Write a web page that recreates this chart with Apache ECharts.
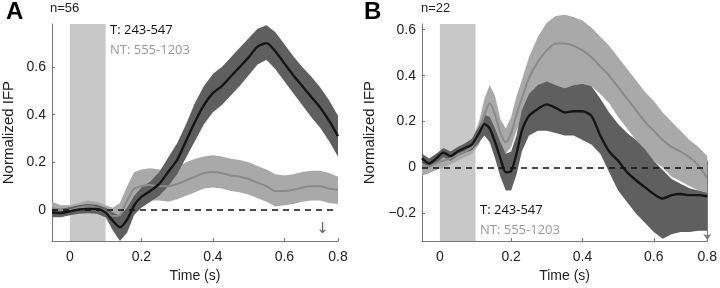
<!DOCTYPE html>
<html>
<head>
<meta charset="utf-8">
<script src="https://cdn.jsdelivr.net/npm/echarts@6/dist/echarts.min.js"></script>
<style>
  html, body { margin: 0; padding: 0; background: #fff; }
  #chart { width: 720px; height: 288px; }
</style>
</head>
<body>
<div id="chart"></div>
<script>
// ---- panel A (n=56) ----
var timeA = [-0.05, -0.025, 0, 0.025, 0.05, 0.075, 0.1, 0.12, 0.14, 0.16, 0.18, 0.2, 0.225, 0.25, 0.275, 0.3,
  0.325, 0.35, 0.375, 0.4, 0.425, 0.45, 0.475, 0.5, 0.525, 0.55, 0.575, 0.6, 0.625, 0.65, 0.675, 0.7, 0.725, 0.75];
var meanA_T = [-0.01, -0.012, -0.005, 0.003, 0.005, 0.005, -0.01, -0.045, -0.072, -0.04, 0.02, 0.055, 0.08, 0.11, 0.16, 0.21,
  0.29, 0.37, 0.44, 0.49, 0.52, 0.56, 0.6, 0.64, 0.685, 0.70, 0.665, 0.615, 0.565, 0.52, 0.475, 0.43, 0.375, 0.31];
var loA_T = [-0.03, -0.03, -0.022, -0.015, -0.013, -0.015, -0.03, -0.085, -0.13, -0.095, -0.02, 0.01, 0.035, 0.06, 0.1, 0.15,
  0.22, 0.29, 0.36, 0.41, 0.44, 0.48, 0.52, 0.565, 0.61, 0.63, 0.59, 0.54, 0.49, 0.44, 0.39, 0.345, 0.29, 0.225];
var hiA_T = [0.01, 0.006, 0.012, 0.02, 0.025, 0.022, 0.01, -0.01, -0.025, 0.01, 0.06, 0.095, 0.12, 0.16, 0.22, 0.28,
  0.36, 0.45, 0.52, 0.57, 0.6, 0.64, 0.68, 0.72, 0.76, 0.775, 0.745, 0.695, 0.645, 0.6, 0.56, 0.515, 0.46, 0.395];
var meanA_NT = [0.01, 0.0, 0.0, 0.01, 0.015, 0.01, -0.005, -0.025, -0.02, 0.04, 0.09, 0.1, 0.105, 0.1, 0.1, 0.11,
  0.125, 0.14, 0.155, 0.16, 0.155, 0.145, 0.14, 0.13, 0.115, 0.1, 0.08, 0.08, 0.085, 0.095, 0.1, 0.1, 0.09, 0.085];
var loA_NT = [-0.01, -0.02, -0.02, -0.01, -0.005, -0.01, -0.03, -0.06, -0.06, -0.01, 0.02, 0.03, 0.04, 0.04, 0.035, 0.045,
  0.06, 0.075, 0.09, 0.095, 0.09, 0.08, 0.075, 0.065, 0.05, 0.035, 0.015, 0.02, 0.025, 0.035, 0.04, 0.04, 0.03, 0.025];
var hiA_NT = [0.035, 0.02, 0.02, 0.03, 0.04, 0.035, 0.02, 0.01, 0.03, 0.1, 0.16, 0.17, 0.175, 0.17, 0.165, 0.18,
  0.2, 0.215, 0.225, 0.23, 0.225, 0.215, 0.21, 0.2, 0.185, 0.17, 0.15, 0.145, 0.15, 0.16, 0.165, 0.165, 0.155, 0.14];

// ---- panel B (n=22) ----
var timeB = [-0.05, -0.03, -0.01, 0.01, 0.03, 0.05, 0.07, 0.09, 0.11, 0.125, 0.14, 0.155, 0.17, 0.185, 0.2, 0.215, 0.23,
  0.25, 0.275, 0.3, 0.325, 0.35, 0.375, 0.4, 0.425, 0.45, 0.475, 0.5, 0.525, 0.55, 0.575, 0.6, 0.625, 0.65, 0.675, 0.7, 0.725, 0.75];
var meanB_T = [0.04, 0.018, 0.04, 0.065, 0.05, 0.07, 0.085, 0.1, 0.15, 0.19, 0.17, 0.11, 0.04, -0.02, -0.015, 0.06, 0.16,
  0.225, 0.255, 0.275, 0.26, 0.24, 0.245, 0.245, 0.225, 0.14, 0.07, 0.03, -0.02, -0.055, -0.085, -0.115, -0.135, -0.12, -0.115, -0.12, -0.12, -0.125];
var loB_T = [0.02, 0.0, 0.02, 0.045, 0.03, 0.05, 0.065, 0.075, 0.11, 0.14, 0.11, 0.04, -0.04, -0.1, -0.1, -0.03, 0.07,
  0.14, 0.16, 0.16, 0.15, 0.14, 0.14, 0.12, 0.1, 0.06, -0.02, -0.1, -0.15, -0.2, -0.24, -0.28, -0.31, -0.29, -0.28, -0.28, -0.275, -0.275];
var hiB_T = [0.06, 0.04, 0.06, 0.085, 0.07, 0.09, 0.105, 0.125, 0.18, 0.23, 0.22, 0.17, 0.11, 0.06, 0.07, 0.14, 0.25,
  0.32, 0.36, 0.375, 0.36, 0.345, 0.36, 0.365, 0.355, 0.3, 0.24, 0.19, 0.15, 0.12, 0.08, 0.03, -0.01, -0.05, -0.07, -0.09, -0.1, -0.11];
var meanB_NT = [0.01, 0.005, 0.02, 0.03, 0.04, 0.055, 0.07, 0.09, 0.15, 0.23, 0.28, 0.23, 0.15, 0.11, 0.15, 0.23, 0.3,
  0.39, 0.46, 0.51, 0.54, 0.54, 0.53, 0.51, 0.48, 0.44, 0.4, 0.35, 0.3, 0.25, 0.2, 0.16, 0.12, 0.09, 0.07, 0.045, 0.01, -0.046];
var loB_NT = [-0.035, -0.025, -0.01, 0.0, 0.015, 0.03, 0.045, 0.06, 0.1, 0.16, 0.2, 0.16, 0.09, 0.06, 0.09, 0.16, 0.21,
  0.28, 0.33, 0.37, 0.36, 0.345, 0.36, 0.365, 0.355, 0.32, 0.28, 0.22, 0.17, 0.12, 0.07, 0.03, 0.0, -0.04, -0.06, -0.08, -0.1, -0.11];
var hiB_NT = [0.05, 0.035, 0.05, 0.06, 0.065, 0.08, 0.095, 0.12, 0.2, 0.3, 0.36, 0.31, 0.21, 0.17, 0.22, 0.31, 0.38,
  0.48, 0.57, 0.63, 0.66, 0.665, 0.655, 0.64, 0.61, 0.57, 0.53, 0.48, 0.43, 0.38, 0.33, 0.29, 0.24, 0.2, 0.16, 0.12, 0.09, 0.05];

var xTicks = [0, 0.2, 0.4, 0.6, 0.75];
var yTicksA = [0, 0.2, 0.4, 0.6];
var yTicksB = [-0.2, 0, 0.2, 0.4, 0.6];
var stimWindow = [0, 0.1];

var FONT = 'Liberation Sans, Arial, sans-serif';
var LEG_FONT = 'Open Sans, sans-serif';

function zip(t, a, b) {
	var out = [];
	for (var i = 0; i < t.length; i++) out.push(b ? [t[i], a[i], b[i]] : [t[i], a[i]]);
	return out;
}

// polygon between lo and hi, drawn through the axes' own scales
function bandSeries(idx, t, lo, hi, color, z) {
	return {
		type: 'custom',
		xAxisIndex: idx, yAxisIndex: idx,
		z: z,
		silent: true,
		clip: false,
		data: zip(t, lo, hi),
		encode: { x: 0, y: [1, 2] },
		renderItem: function (params, api) {
			if (params.dataIndex !== 0) return;
			var pts = [];
			for (var i = 0; i < t.length; i++) pts.push(api.coord([t[i], hi[i]]));
			for (var j = t.length - 1; j >= 0; j--) pts.push(api.coord([t[j], lo[j]]));
			return { type: 'polygon', shape: { points: pts }, style: { fill: color } };
		}
	};
}

function lineSeries(idx, t, m, color, w, z) {
	return {
		type: 'line', xAxisIndex: idx, yAxisIndex: idx, z: z,
		data: zip(t, m), showSymbol: false, smooth: 0.25, silent: true,
		lineStyle: { color: color, width: w }
	};
}

function xAxisCfg(idx) {
	return {
		type: 'value', gridIndex: idx, min: -0.05, max: 0.75,
		name: 'Time (s)', nameLocation: 'middle', nameGap: 24,
		nameTextStyle: { fontFamily: FONT, fontSize: 14, color: '#222' },
		axisLine: { onZero: false, lineStyle: { color: '#777', width: 1 } },
		axisTick: { inside: true, length: 3, customValues: xTicks, lineStyle: { color: '#777' } },
		splitLine: { show: false },
		axisLabel: {
			customValues: xTicks, margin: 9, fontFamily: FONT, fontSize: 14, color: '#222',
			formatter: function (v) { return v === 0.75 ? '0.8' : String(+v.toFixed(1)); }
		}
	};
}

function yAxisCfg(idx, min, max, ticks, gap) {
	return {
		type: 'value', gridIndex: idx, min: min, max: max,
		name: 'Normalized IFP', nameLocation: 'middle', nameGap: gap,
		nameTextStyle: { fontFamily: FONT, fontSize: 15, color: '#222' },
		axisLine: { show: true, onZero: false, lineStyle: { color: '#777', width: 1 } },
		axisTick: { show: true, inside: true, length: 3, customValues: ticks, lineStyle: { color: '#777' } },
		splitLine: { show: false },
		axisLabel: {
			customValues: ticks, margin: 6, fontFamily: FONT, fontSize: 14, color: '#222',
			formatter: function (v) {
				var s = String(+v.toFixed(1));
				return v < 0 ? '\u2212' + s.slice(1) : s;
			}
		}
	};
}

function stimSeries(idx) {
	return {
		type: 'line', xAxisIndex: idx, yAxisIndex: idx, z: 1, data: [], silent: true,
		markArea: {
			silent: true,
			itemStyle: { color: '#c8c8c8', opacity: 1 },
			data: [[{ xAxis: stimWindow[0] }, { xAxis: stimWindow[1] }]]
		}
	};
}

function zeroSeries(idx) {
	return {
		type: 'line', xAxisIndex: idx, yAxisIndex: idx, z: 10, data: [], silent: true,
		markLine: {
			silent: true, symbol: 'none', label: { show: false },
			lineStyle: { color: '#111', width: 1.5, type: [6, 5] },
			data: [{ yAxis: 0 }]
		}
	};
}

var chart = echarts.init(document.getElementById('chart'), null, { renderer: 'canvas' });
chart.setOption({
	backgroundColor: '#fff',
	animation: false,
	grid: [
		{ left: 51, top: 24, right: 382, bottom: 43 },
		{ left: 422, top: 24, right: 11, bottom: 44 }
	],
	xAxis: [xAxisCfg(0), xAxisCfg(1)],
	yAxis: [
		yAxisCfg(0, -0.13, 0.78, yTicksA, 36),
		yAxisCfg(1, -0.32, 0.625, yTicksB, 45)
	],
	graphic: [
		{ type: 'text', left: 6, top: 0, style: { text: 'A', fontFamily: FONT, fontWeight: 'bold', fontSize: 24, fill: '#000' } },
		{ type: 'text', left: 50, top: 2, style: { text: 'n=56', fontFamily: FONT, fontSize: 13, fill: '#222' } },
		{ type: 'text', left: 110, top: 24, style: { text: 'T: 243-547', fontFamily: LEG_FONT, fontSize: 13, fill: '#111' } },
		{ type: 'text', left: 110, top: 44, style: { text: 'NT: 555-1203', fontFamily: LEG_FONT, fontSize: 13, fill: '#999' } },
		{ type: 'text', left: 364, top: 0, style: { text: 'B', fontFamily: FONT, fontWeight: 'bold', fontSize: 24, fill: '#000' } },
		{ type: 'text', left: 421, top: 2, style: { text: 'n=22', fontFamily: FONT, fontSize: 13, fill: '#222' } },
		{ type: 'text', left: 480, top: 204, style: { text: 'T: 243-547', fontFamily: LEG_FONT, fontSize: 13, fill: '#111' } },
		{ type: 'text', left: 480, top: 224, style: { text: 'NT: 555-1203', fontFamily: LEG_FONT, fontSize: 13, fill: '#999' } }
	],
	series: [
		stimSeries(0),
		bandSeries(0, timeA, loA_NT, hiA_NT, '#a9a9a9', 2),
		bandSeries(0, timeA, loA_T, hiA_T, '#5f5f5f', 3),
		lineSeries(0, timeA, meanA_NT, '#8a8a8a', 2, 4),
		lineSeries(0, timeA, meanA_T, '#151515', 2.4, 5),
		zeroSeries(0),
		{
			type: 'line', xAxisIndex: 0, yAxisIndex: 0, z: 10, data: [], silent: true,
			markPoint: {
				silent: true, symbol: 'circle', symbolSize: 0,
				label: { show: true, position: 'inside', formatter: '\u2193', fontFamily: 'DejaVu Sans', fontSize: 15, color: '#666' },
				data: [{ coord: [0.707, -0.08] }]
			}
		},

		stimSeries(1),
		bandSeries(1, timeB, loB_NT, hiB_NT, '#a9a9a9', 2),
		bandSeries(1, timeB, loB_T, hiB_T, '#5f5f5f', 3),
		lineSeries(1, timeB, meanB_NT, '#8a8a8a', 2, 4),
		lineSeries(1, timeB, meanB_T, '#151515', 2.4, 5),
		zeroSeries(1),
		{
			type: 'line', xAxisIndex: 1, yAxisIndex: 1, z: 10, data: [], silent: true,
			markLine: {
				silent: true, symbol: ['none', 'arrow'], symbolSize: 6, label: { show: false },
				lineStyle: { color: '#777', width: 1, type: 'solid' },
				data: [[{ coord: [0.75, 0.03] }, { coord: [0.75, -0.315] }]]
			}
		}
	]
});
</script>
</body>
</html>
